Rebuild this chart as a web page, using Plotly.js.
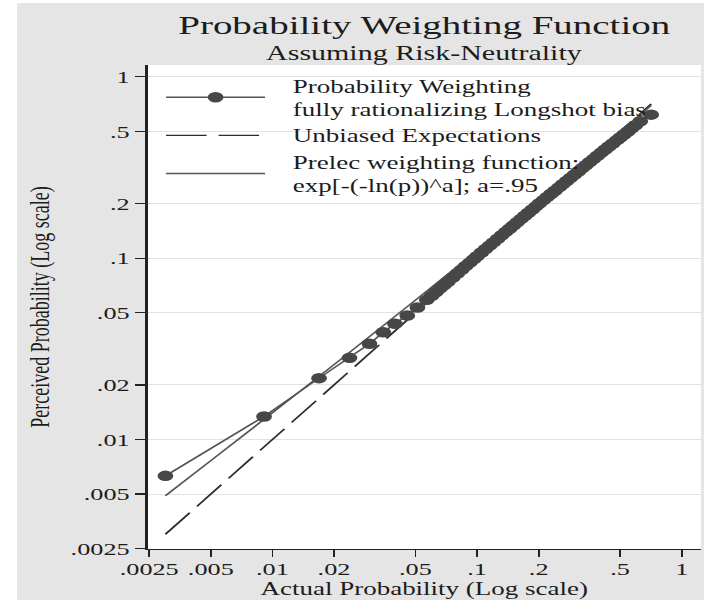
<!DOCTYPE html>
<html>
<head>
<meta charset="utf-8">
<script src="https://cdn.plot.ly/plotly-3.0.1.min.js"></script>
<style>
  html, body { margin: 0; padding: 0; background: #ffffff; width: 704px; height: 604px; overflow: hidden; }
  #plot { position: absolute; left: 17px; top: 3px; transform: scaleX(1.5); transform-origin: 0 0; }
</style>
</head>
<body>
<div id="plot"></div>
<script>
// Probability Weighting fully rationalizing Longshot bias
const actualProb = [0.0030, 0.0091, 0.0169, 0.0238, 0.0298, 0.0348, 0.0397, 0.0456, 0.0511, 0.0568,
  0.060, 0.063, 0.066, 0.069, 0.072, 0.076, 0.080, 0.084, 0.088, 0.092, 0.096, 0.100,
  0.105, 0.110, 0.115, 0.120, 0.126, 0.132, 0.138, 0.144, 0.150, 0.157, 0.164, 0.171,
  0.178, 0.186, 0.194, 0.202, 0.211, 0.220, 0.230, 0.240, 0.251, 0.262, 0.274, 0.286,
  0.299, 0.312, 0.326, 0.340, 0.355, 0.371, 0.387, 0.404, 0.422, 0.440, 0.460, 0.480,
  0.500, 0.522, 0.545, 0.569, 0.594, 0.627, 0.709];
const perceivedProb = [0.0063, 0.0134, 0.0218, 0.0282, 0.0337, 0.0390, 0.0435, 0.0483, 0.0535, 0.0589,
  0.0621, 0.0651, 0.0682, 0.0712, 0.0742, 0.0783, 0.0824, 0.0864, 0.0905, 0.0945, 0.0985, 0.1025,
  0.1074, 0.1123, 0.1173, 0.1222, 0.1280, 0.1338, 0.1397, 0.1454, 0.1512, 0.1579, 0.1647, 0.1713,
  0.1780, 0.1856, 0.1932, 0.2008, 0.2091, 0.2174, 0.2266, 0.2357, 0.2457, 0.2557, 0.2666, 0.2774,
  0.2891, 0.3008, 0.3133, 0.3257, 0.3390, 0.3532, 0.3673, 0.3822, 0.3975, 0.4127, 0.4296, 0.4464,
  0.4630, 0.4813, 0.5003, 0.5201, 0.5405, 0.5687, 0.6190];

// Unbiased expectations (45-degree line)
const unbiasedX = [0.0030, 0.709];
const unbiasedY = [0.0030, 0.709];

// Prelec weighting function exp[-(-ln(p))^a], a=.95
const prelecX = [0.003, 0.005, 0.01, 0.02, 0.05, 0.1, 0.2, 0.35, 0.5, 0.709];
const prelecY = [0.00489, 0.00765, 0.01403, 0.02589, 0.05869, 0.1099, 0.2077, 0.3509, 0.4936, 0.6958];

// Tick labels
const tickVals = [0.0025, 0.005, 0.01, 0.02, 0.05, 0.1, 0.2, 0.5, 1];
const tickText = ['.0025', '.005', '.01', '.02', '.05', '.1', '.2', '.5', '1'];

// Texts
const titleText = 'Probability Weighting Function';
const subtitleText = 'Assuming Risk-Neutrality';
const xTitle = 'Actual Probability (Log scale)';
const yTitle = 'Perceived Probability (Log scale)';
const seriesNames = [
  ['Probability Weighting', 'fully rationalizing Longshot bias'],
  ['Unbiased Expectations'],
  ['Prelec weighting function:', 'exp[-(-ln(p))^a]; a=.95']
];

const FONT = 'Liberation Serif, Times New Roman, serif';
const INK = '#1c1c1c';
const GAP = '\u00a0\u00a0\u00a0';
const legendName = lines => lines.map(s => GAP + s).join('<br>');

const traces = [
  {
    x: unbiasedX, y: unbiasedY, type: 'scatter', mode: 'lines',
    name: legendName(seriesNames[1]), legendrank: 2,
    line: { color: '#2b2b2b', width: 1.4, dash: '27px,8px' }
  },
  {
    x: prelecX, y: prelecY, type: 'scatter', mode: 'lines',
    name: legendName(seriesNames[2]), legendrank: 3,
    line: { color: '#555555', width: 1.4, shape: 'spline' }
  },
  {
    x: actualProb, y: perceivedProb, type: 'scatter', mode: 'lines+markers',
    name: legendName(seriesNames[0]), legendrank: 1,
    line: { color: '#555555', width: 1.4 },
    marker: { color: '#474747', size: 10.5 }
  }
];

const axisCommon = {
  type: 'log',
  tickmode: 'array', tickvals: tickVals, ticktext: tickText,
  ticks: 'outside', ticklen: 7, tickwidth: 1.2, tickcolor: '#222',
  showline: true, linecolor: '#222', linewidth: 1.4,
  zeroline: false, automargin: false,
  tickfont: { family: FONT, size: 17.5, color: INK }
};

const layout = {
  width: 458, height: 597,
  margin: { l: 87, r: 2, t: 62, b: 51, pad: 0 },
  paper_bgcolor: '#e5e5e5',
  plot_bgcolor: '#ffffff',
  font: { family: FONT, color: INK },
  showlegend: true,
  title: {
    text: titleText,
    font: { family: FONT, size: 26, color: INK },
    x: 0.5, xref: 'paper', xanchor: 'center',
    y: 0.979, yref: 'container', yanchor: 'top'
  },
  annotations: [{
    text: subtitleText, showarrow: false,
    xref: 'paper', yref: 'paper', x: 0.5, y: 1, xanchor: 'center', yanchor: 'bottom',
    yshift: -2,
    font: { family: FONT, size: 20, color: INK }
  }],
  xaxis: Object.assign({}, axisCommon, {
    range: [-2.6104, 0.0942],
    showgrid: false,
    ticklabelstandoff: -3,
    title: { text: xTitle, font: { family: FONT, size: 18, color: INK }, standoff: 9 }
  }),
  yaxis: Object.assign({}, axisCommon, {
    range: [-2.604, 0.0656],
    showgrid: true, gridcolor: '#e2e2e2', gridwidth: 1,
    title: { text: yTitle, font: { family: FONT, size: 18, color: INK }, standoff: 9 }
  }),
  legend: {
    x: 0.02, y: 0.995, xanchor: 'left', yanchor: 'top',
    bgcolor: 'rgba(0,0,0,0)', borderwidth: 0,
    font: { family: FONT, size: 18, color: INK },
    traceorder: 'normal', itemwidth: 66, valign: 'middle',
    tracegroupgap: 0
  }
};

Plotly.newPlot('plot', traces, layout, { displayModeBar: false, staticPlot: true });
</script>
</body>
</html>
